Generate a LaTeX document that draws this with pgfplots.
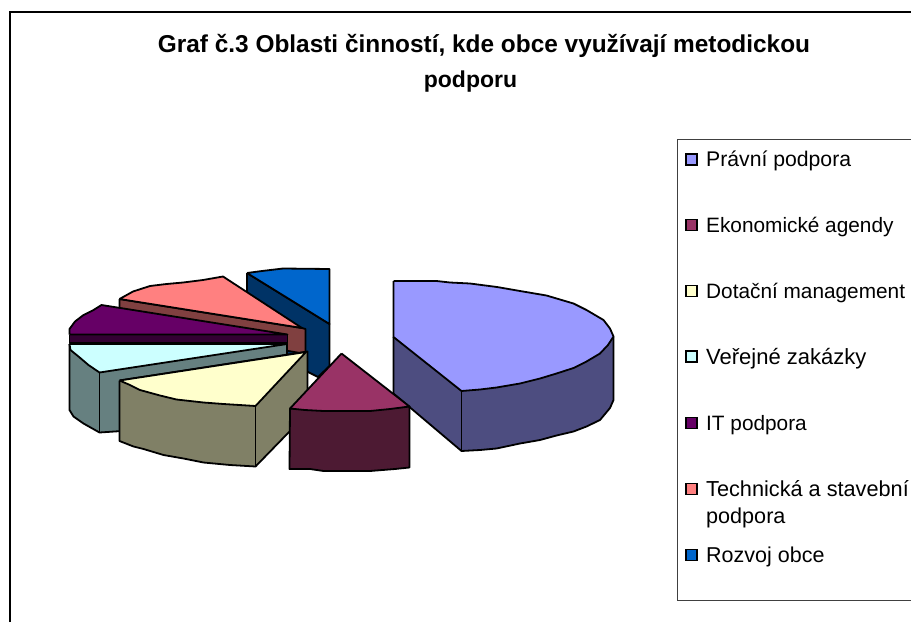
\documentclass[border=0pt]{standalone}
\usepackage{fontspec}
\setmainfont{Liberation Sans}
\usepackage{pgfplots}
\pgfplotsset{compat=1.18}
\definecolor{pravT}{HTML}{9999FF}\definecolor{pravS}{HTML}{4D4D80}
\definecolor{ekoT}{HTML}{993366}\definecolor{ekoS}{HTML}{4D1A33}
\definecolor{dotT}{HTML}{FFFFCC}\definecolor{dotS}{HTML}{808066}
\definecolor{verT}{HTML}{CCFFFF}\definecolor{verS}{HTML}{668080}
\definecolor{itT}{HTML}{660066}\definecolor{itS}{HTML}{330033}
\definecolor{tecT}{HTML}{FF8080}\definecolor{tecS}{HTML}{804040}
\definecolor{rozT}{HTML}{0066CC}\definecolor{rozS}{HTML}{003366}
\pgfplotsset{
  slice/.style={draw=black,line width=1.8pt,line join=round,mark=none,fill=#1},
  key/.style={only marks,mark=square*,mark size=5.6pt,mark options={draw=black,line width=1.7pt,fill=#1}},
  frame/.style={draw=#1,mark=none,line join=miter},
}
% y of baseline, font size, text
\newcommand{\legtext}[3]{\node[anchor=base west,inner sep=0pt,font=\fontsize{#2}{24}\selectfont,text=black] at (axis cs:706,#1) {#3};}
\begin{document}
\begin{tikzpicture}
\begin{axis}[
  scale only axis,width=911pt,height=622pt,
  xmin=0,xmax=911,ymin=0,ymax=622,y dir=reverse,
  hide axis,clip=true,
]
% white page, fixes the picture's extent
\addplot[draw=none,fill=white,mark=none] coordinates {(0,0) (911,0) (911,622) (0,622) (0,0)};
% outer frame, runs off the top right and the bottom
\addplot[frame=black,line width=2.2pt] coordinates {(10,622) (10,12) (911,12)};
% legend box
\addplot[frame=black!75,line width=1pt] coordinates {(911,139.5) (677.5,139.5) (677.5,600.5) (911,600.5)};

% Rozvoj obce
\addplot[slice=rozS] coordinates {(247,273) (329.5,324) (329.5,366) (318,377) (300,368) (247,310) (247,273)};
\addplot[slice=rozT] coordinates {(247,273) (262,271) (283,268.5) (329.5,269) (329.5,324) (247,273)};
% Technicka a stavebni podpora
\addplot[slice=tecS] coordinates {(119.5,299) (302,328) (305.5,329) (305.5,354) (119.5,321) (119.5,299)};
\addplot[slice=tecT] coordinates {(119.5,299) (133,291.5) (150,286) (166.5,284) (183,282.5) (203,280) (223,276.5) (302,328) (119.5,299)};
% IT podpora
\addplot[slice=itS] coordinates {(69.5,334.5) (287.5,334.5) (287.5,343) (69.5,343) (69.5,334.5)};
\addplot[slice=itT] coordinates {(69.5,334.5) (69.5,329) (75,321.5) (83.5,315) (93.5,310) (101.5,305) (287.5,334.5) (69.5,334.5)};
% Verejne zakazky
\addplot[slice=verS] coordinates {(69.5,344) (287,344) (287,353) (287,420) (99.5,432.5) (83.5,423.5) (73.5,416.5) (69.5,410) (69.5,344)};
\addplot[slice=verT] coordinates {(69.5,344) (287,344) (99.5,372.5) (88.5,365) (78.5,356.5) (70.5,350) (69.5,344)};
\addplot[black,line width=1.8pt,mark=none] coordinates {(99.5,372.5) (99.5,432.5)};
% Dotacni management
\addplot[slice=dotS] coordinates {(119.5,380.5) (307.5,351.5) (307.5,413) (255.5,466.5) (230,465) (203.5,462.5) (183.5,458.5) (163.5,455) (143.5,449) (133.5,446.5) (119.5,441) (119.5,380.5)};
\addplot[slice=dotT] coordinates {(119.5,380.5) (130,385) (140,390) (160,395.5) (176.5,399.5) (203.5,402.5) (223.5,404) (255.5,406) (306,352) (119.5,380.5)};
\addplot[black,line width=1.8pt,mark=none] coordinates {(255.5,406) (255.5,466.5)};
% Pravni podpora
\addplot[slice=pravS] coordinates {(393.5,337) (613.5,337) (613.5,400) (610,408) (600,420) (586.5,426.5) (573.5,431.5) (556.5,435.5) (540,440) (520,443.5) (496.5,448.5) (480,450) (461.5,451) (393.5,393.5) (393.5,337)};
\addplot[slice=pravT] coordinates {(393.5,281) (436.5,281) (450,282.5) (470,283.5) (497,287) (520,291) (546.5,295.5) (573.5,303.5) (586.5,310) (603.5,320) (610,328.5) (613.5,336.5) (608,345) (600,353.5) (586.5,361.5) (573.5,368) (556.5,373.5) (540,378.5) (520,383.5) (496.5,387.5) (480,389.5) (461.5,391) (393.5,337) (393.5,281)};
\addplot[black,line width=1.8pt,mark=none] coordinates {(461.5,391) (461.5,451)};
% Ekonomicke agendy
\addplot[slice=ekoS] coordinates {(290,408.5) (409.5,406.5) (409.5,467.5) (395,469) (370,471) (323.5,471) (310,469) (289.5,469) (290,408.5)};
\addplot[slice=ekoT] coordinates {(341.5,353.5) (409.5,406.5) (390,409) (370,411) (323.5,411) (305,410) (290,408.5) (341.5,353.5)};

% legend keys
\addplot[key=pravT] coordinates {(691.5,159.5)};
\addplot[key=ekoT] coordinates {(691.5,225)};
\addplot[key=dotT] coordinates {(691.5,291)};
\addplot[key=verT] coordinates {(691.5,356.5)};
\addplot[key=itT] coordinates {(691.5,423)};
\addplot[key=tecT] coordinates {(691.5,489)};
\addplot[key=rozT] coordinates {(691.5,555)};

\legtext{166.5}{21.2}{Právní podpora}
\legtext{232}{20.8}{Ekonomické agendy}
\legtext{298}{20.8}{Dotační management}
\legtext{364}{22}{Veřejné zakázky}
\legtext{430}{20.8}{IT podpora}
\legtext{496}{21.7}{Technická a stavební}
\legtext{523}{21.6}{podpora}
\legtext{562}{21.5}{Rozvoj obce}

\node[anchor=base,inner sep=0pt,font=\fontsize{24.4}{28}\selectfont\bfseries] at (axis cs:484,52) {Graf č.3 Oblasti činností, kde obce využívají metodickou};
\node[anchor=base,inner sep=0pt,font=\fontsize{23}{28}\selectfont\bfseries] at (axis cs:470.5,87) {podporu};
\end{axis}
\end{tikzpicture}
\end{document}
